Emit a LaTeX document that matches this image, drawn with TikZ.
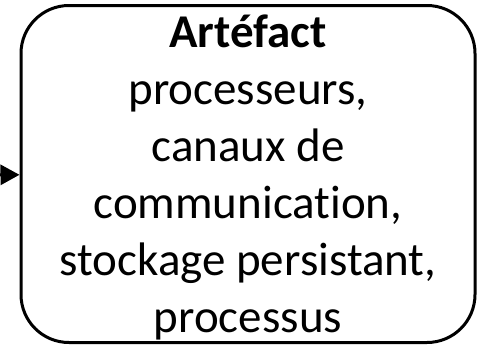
\documentclass[tikz,border=0pt]{standalone}
\usepackage{fontspec}
\setmainfont{Carlito}[Ligatures=NoCommon]
\usetikzlibrary{positioning, arrows.meta}

\begin{document}
\begin{tikzpicture}[x=1pt, y=-1pt,
    box/.style={draw, line width=3pt, rounded corners=48pt,
      minimum width=454pt, minimum height=337pt, align=center,
      inner sep=0pt, text depth=-10pt, font=\fontsize{47}{57}\selectfont}]
  \useasboundingbox (0,0) rectangle (477,346);

  \node[box] (artefact) at (248,174) {\textbf{Artéfact}\\processeurs,\\canaux de\\communication,\\stockage persistant,\\processus};
  \coordinate (src) at (-40,175);

  \draw[line width=3pt, -{Triangle[length=19pt, width=20pt]}] (src) -- (artefact);
\end{tikzpicture}
\end{document}
